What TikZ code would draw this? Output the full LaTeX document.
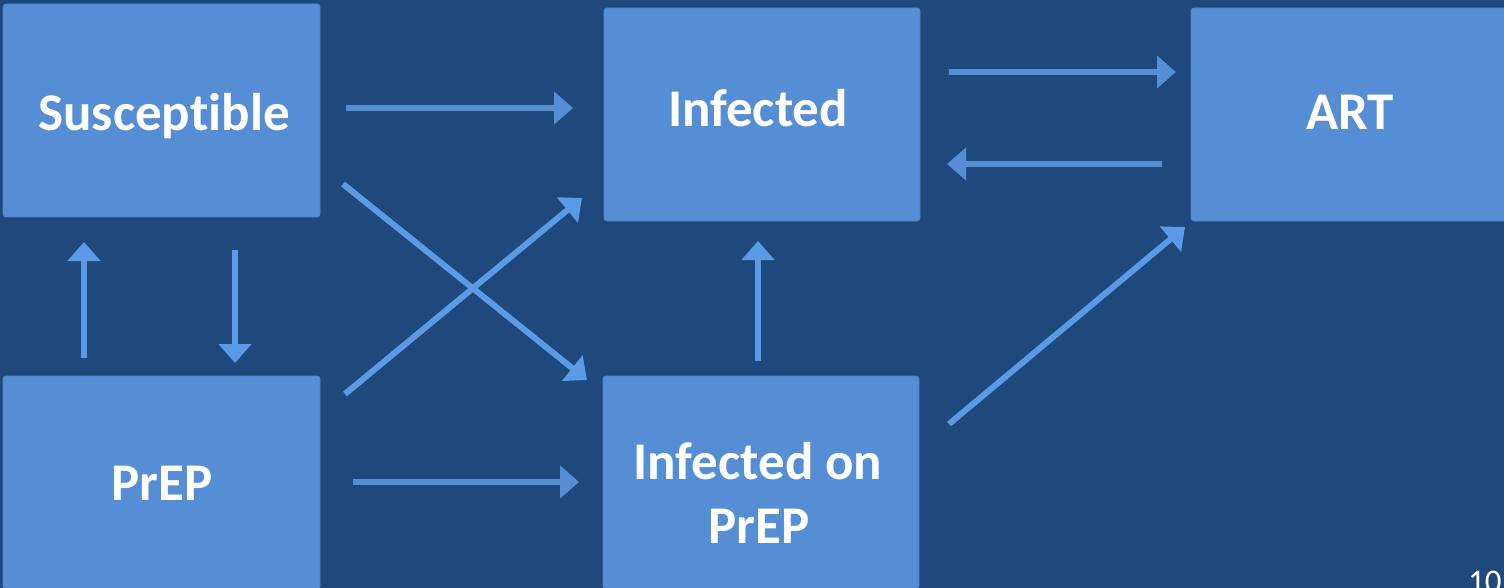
\documentclass[tikz,border=0pt]{standalone}
\usepackage{fontspec}
\setmainfont{Carlito}[Ligatures=CommonOff]
\usetikzlibrary{arrows.meta}
\definecolor{bg}{HTML}{1F497D}
\definecolor{boxfill}{HTML}{558ED5}
\definecolor{boxedge}{HTML}{4E85C8}
\definecolor{harrow}{HTML}{558ED5}
\definecolor{darrow}{HTML}{5B9AE4}
\tikzset{
  stbox/.style={rectangle, rounded corners=3pt, fill=boxfill, draw=boxedge, line width=0.8pt, inner sep=0pt},
  lbl/.style={anchor=base, text=white, font=\fontsize{53}{64}\selectfont\bfseries, inner sep=0pt},
  flow/.style={line width=6pt, -{Triangle[length=19pt,width=32pt]}},
}
\begin{document}
\begin{tikzpicture}[x=1pt,y=-1pt]
\fill[bg] (0,0) rectangle (1504,588);
\useasboundingbox (0,0) rectangle (1504,588);

% boxes
\node[stbox, minimum width=317pt, minimum height=213pt] (S)  at (161.5,110.5) {};
\node[stbox, minimum width=317pt, minimum height=213pt] (P)  at (161.5,482.5) {};
\node[stbox, minimum width=316pt, minimum height=213pt] (I)  at (762,114.5) {};
\node[stbox, minimum width=316pt, minimum height=213pt] (IP) at (761,482.5) {};
\node[stbox, minimum width=316pt, minimum height=213pt] (A)  at (1349,114.5) {};

% labels
\node[lbl] (tS)  at (164,131) {Susceptible};
\node[lbl] (tP)  at (162,500) {PrEP};
\node[lbl] (tI)  at (758,127) {Infected};
\node[lbl] (tIP1) at (758,479) {Infected on};
\node[lbl] (tIP2) at (759,543) {PrEP};
\node[lbl] (tA)  at (1350,130) {ART};

% connector end points
\coordinate (SIa) at (346,108);  \coordinate (SIb) at (573,108);
\coordinate (IAa) at (949,72);   \coordinate (IAb) at (1176,72);
\coordinate (AIa) at (1162,164); \coordinate (AIb) at (947,164);
\coordinate (PSa) at (84,358);   \coordinate (PSb) at (84,242);
\coordinate (SPa) at (235,250);  \coordinate (SPb) at (235,363);
\coordinate (SIPa) at (343,184); \coordinate (SIPb) at (587,380);
\coordinate (PIa) at (345,394);  \coordinate (PIb) at (582,198);
\coordinate (PIPa) at (353,482); \coordinate (PIPb) at (579,482);
\coordinate (IPIa) at (758,361); \coordinate (IPIb) at (758,241);
\coordinate (IPAa) at (949,424); \coordinate (IPAb) at (1185,227);

% connectors
\draw[flow, harrow] (SIa) -- (SIb);
\draw[flow, harrow] (IAa) -- (IAb);
\draw[flow, harrow] (AIa) -- (AIb);
\draw[flow, darrow] (PSa) -- (PSb);
\draw[flow, darrow] (SPa) -- (SPb);
\draw[flow, darrow] (SIPa) -- (SIPb);
\draw[flow, darrow] (PIa) -- (PIb);
\draw[flow, harrow] (PIPa) -- (PIPb);
\draw[flow, darrow] (IPIa) -- (IPIb);
\draw[flow, darrow] (IPAa) -- (IPAb);

% page number
\node[anchor=base west, inner sep=0pt, text=white, font=\fontsize{33}{40}\selectfont] (pg) at (1468,592) {10};
\end{tikzpicture}
\end{document}
